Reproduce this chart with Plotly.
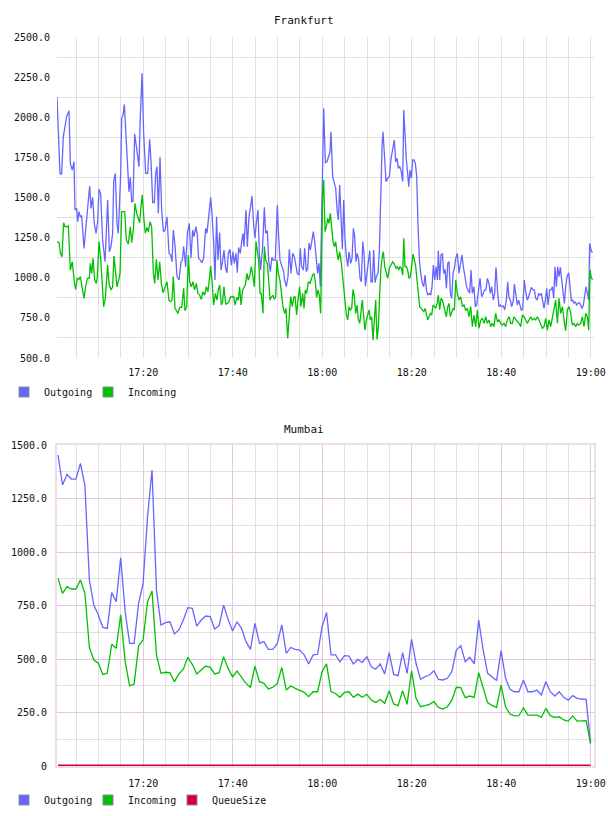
import pandas as pd
import plotly.graph_objects as go

# ---------------- data ----------------
DAY = "2013-01-01 17:00:00"   # times below are seconds after 17:00

fra_out_t = [43, 83, 105, 128, 150, 172, 204, 222, 248, 271, 284, 307, 320, 338, 356, 374, 405, 432, 454, 481,
             499, 521, 543, 566, 588, 606, 628, 655, 687, 722, 745, 767, 789, 803, 825, 847, 865, 897, 910, 928,
             946, 968, 990, 1008, 1026, 1044, 1062, 1084, 1111, 1142, 1160, 1183, 1205, 1232, 1259, 1285, 1303,
             1326, 1348, 1366, 1384, 1402, 1424, 1446, 1469, 1491, 1518, 1545, 1567, 1585, 1603, 1625, 1652, 1679,
             1706, 1724, 1741, 1768, 1791, 1817,
             1839, 1862, 1879, 1906, 1924, 1942, 1964, 1987, 2009, 2036, 2054, 2081, 2103, 2121, 2143, 2161, 2183,
             2201, 2224, 2242, 2259, 2282, 2304, 2322, 2340, 2362, 2380, 2402, 2420, 2443, 2461, 2478, 2501, 2519,
             2537, 2550, 2577, 2595, 2617, 2639, 2657, 2680, 2697, 2715, 2738, 2756, 2773, 2800, 2823, 2841, 2863,
             2881, 2903, 2925, 2943, 2970, 2997, 3015, 3033, 3060, 3082, 3095, 3118, 3140, 3158, 3180, 3203, 3225,
             3243, 3265, 3288, 3305, 3323, 3346, 3364, 3386, 3404, 3422, 3440, 3462, 3480, 3498, 3516, 3538, 3556,
             3574,
             3619, 3641, 3663, 3686, 3704, 3717, 3739, 3762, 3780, 3798, 3815, 3833, 3851, 3869, 3887, 3905, 3923,
             3941, 3958, 3981, 3999, 4017, 4034, 4052, 4070, 4088, 4106, 4124, 4142, 4160, 4178, 4195, 4213, 4236,
             4254, 4271, 4289, 4307, 4325, 4347, 4365, 4383, 4401, 4414, 4432, 4455, 4477, 4499, 4522, 4544, 4566,
             4584, 4602, 4620, 4638, 4656, 4678, 4692, 4709, 4727, 4745, 4759, 4776, 4794, 4812, 4830, 4848, 4866,
             4884, 4902, 4920, 4942, 4960, 4978, 4996, 5013, 5036, 5054, 5071, 5089, 5107, 5125, 5143, 5156, 5174,
             5192, 5210, 5228, 5246, 5264, 5282, 5299, 5317, 5335, 5353, 5371, 5389,
             5411, 5433, 5455, 5473, 5491, 5514, 5536, 5554, 5576, 5594, 5612, 5634, 5652, 5670, 5692, 5715, 5737,
             5759, 5777, 5795, 5813, 5835, 5853, 5871, 5893, 5911, 5929, 5952, 5969, 5987, 6005, 6028, 6045, 6068,
             6086, 6104, 6121, 6139, 6162, 6175, 6193, 6215, 6233, 6251, 6269, 6287, 6309, 6327, 6349, 6367, 6385,
             6403, 6425, 6443, 6461, 6479, 6501, 6519, 6537, 6555, 6573, 6591, 6609, 6627, 6649, 6667, 6685, 6703,
             6720, 6738, 6756, 6774, 6792, 6810, 6828, 6846, 6863, 6881, 6904, 6922, 6939, 6957, 6975, 6993, 7011,
             7029, 7047, 7065, 7082, 7100, 7118, 7136, 7154, 7172, 7185, 7208, 7226]
fra_out_v = [2124, 1650, 1646, 1879, 1941, 2004, 2041, 1713, 1671, 1723, 1422, 1432, 1349, 1412, 1380, 1385, 1183,
             1318, 1401, 1572, 1432, 1501, 1339, 1277, 1349, 1551, 1526, 1235, 1100, 1484, 1162, 1194, 1277, 1599,
             1650, 1339, 1277, 1650, 1993, 2014, 2080, 1879, 1671, 1536, 1626, 1474, 1474, 1896, 1806, 1692, 2004,
             2274, 1900, 1650, 1650, 1862, 1734, 1468, 1468, 1650, 1692, 1401, 1754, 1422, 1287, 1297, 1380, 1152,
             1142, 1100, 1297, 1204, 1007, 986, 1100, 1110, 1194, 1069, 1277, 1339,
             1121, 1297, 1256, 1318, 1266, 1121, 1110, 1094, 1121, 1308, 1277, 1380, 1501, 1401, 1225, 986, 1380,
             1110, 1281, 1048, 1090, 1173, 1059, 1031, 1152, 1177, 1079, 1162, 1090, 1152, 1031, 1189, 1152, 1225,
             1277, 1194, 1422, 1194, 1380, 1443, 1509, 1329, 1246, 1339, 1422, 1152, 1048, 1194, 1439, 1277, 1293,
             1110, 1038, 1127, 1110, 1110, 1451, 1256, 1110, 1069, 1038, 986, 944, 1007, 1177, 1027, 1152, 1131,
             1079, 1027, 1017, 1183, 1069, 1048, 1183, 1038, 1059, 1218, 1173, 1256, 1287, 1225, 1110, 1027, 1090,
             944,
             2056, 1717, 1723, 1754, 1785, 1910, 1630, 1588, 1557, 1422, 1360, 1578, 1380, 1177, 1484, 1235, 1131,
             1069, 1162, 1090, 1121, 1308, 1256, 1100, 1152, 1110, 996, 975, 1225, 1152, 948, 1017, 1090, 1169,
             975, 975, 1173, 969, 1007, 1027, 1162, 1526, 1817, 1910, 1765, 1599, 1620, 1630, 1744, 1796, 1858,
             1723, 1744, 1682, 1692, 1671, 1599, 2045, 1879, 1734, 1650, 1567, 1671, 1620, 1734, 1734, 1713, 1630,
             1318, 1110, 1027, 965, 944, 1017, 924, 892, 903, 892, 944, 1079, 986, 1069, 986, 1169, 986,
             1142, 1152, 1027, 1052, 934, 1090, 1100, 903, 872, 1027, 1059, 1121,
             1152, 1027, 1090, 1142, 1069, 986, 940, 924, 903, 1048, 903, 944, 820, 830, 903, 996, 882,
             903, 924, 924, 996, 965, 903, 944, 861, 903, 1065, 903, 820, 830, 820, 824, 799, 861,
             975, 872, 861, 820, 861, 961, 892, 830, 861, 820, 795, 809, 986, 913, 861, 882, 913,
             940, 924, 924, 872, 861, 903, 892, 903, 840, 809, 861, 934, 830, 924, 924, 944, 872,
             1069, 944, 1069, 1007, 1065, 986, 903, 840, 944, 1007, 1031, 944, 857, 861, 840, 851, 830,
             840, 845, 830, 809, 830, 903, 944, 903, 861, 1214, 1162, 1162]

fra_in_t = [43, 70, 88, 110, 132, 150, 177, 195, 222, 248, 275, 293, 315, 338, 356, 383, 405, 427, 450, 476, 490,
            508, 526, 548, 570, 584, 606, 628, 651, 669, 691, 722, 740, 767, 789, 807, 830, 847, 870, 888, 910,
            932, 950, 973, 999, 1026, 1044, 1066, 1089, 1111, 1134, 1151, 1169, 1187, 1209, 1227, 1250, 1268,
            1290, 1312, 1335, 1353, 1375, 1397, 1420, 1442, 1464, 1491, 1518, 1545, 1567, 1585, 1603, 1625, 1648,
            1665, 1688, 1715, 1741, 1759, 1782, 1804, 1822,
            1844, 1866, 1888, 1911, 1933, 1955, 1978, 2000, 2023, 2045, 2067, 2090, 2103, 2121, 2143, 2166, 2188,
            2206, 2224, 2246, 2264, 2282, 2304, 2326, 2349, 2371, 2394, 2411, 2429, 2452, 2474, 2492, 2510, 2532,
            2550, 2568, 2590, 2608, 2630, 2648, 2671, 2689, 2711, 2729, 2747, 2765, 2782, 2805, 2823, 2841, 2863,
            2881, 2899, 2917, 2939, 2957, 2975, 2992, 3010, 3033, 3055, 3073, 3095, 3113, 3136, 3153, 3176, 3198,
            3216, 3234, 3256, 3274, 3296, 3314, 3337, 3355, 3372, 3390, 3413, 3435, 3453, 3471, 3489, 3507, 3524,
            3542, 3560, 3578,
            3605, 3619, 3637, 3655, 3672, 3690, 3708, 3726, 3744, 3762, 3780, 3798, 3815, 3833, 3851, 3869, 3887,
            3905, 3923, 3941, 3958, 3976, 3994, 4012, 4030, 4048, 4066, 4084, 4102, 4119, 4137, 4155, 4173, 4191,
            4209, 4227, 4245, 4262, 4280, 4298, 4316, 4334, 4352, 4370, 4388, 4405, 4419, 4437, 4455, 4477, 4499,
            4522, 4544, 4566, 4589, 4607, 4625, 4642, 4660, 4678, 4692, 4709, 4727, 4745, 4763, 4781, 4799, 4817,
            4835, 4853, 4870, 4888, 4906, 4924, 4942, 4960, 4978, 4996, 5013, 5031, 5049, 5067, 5085, 5103, 5121,
            5139, 5156, 5174, 5192, 5210, 5228, 5246, 5264, 5282, 5299, 5317, 5335, 5353, 5371, 5389,
            5411, 5433, 5455, 5478, 5500, 5522, 5545, 5567, 5590, 5612, 5634, 5657, 5679, 5701, 5724, 5746, 5768,
            5791, 5813, 5835, 5858, 5880, 5902, 5925, 5947, 5969, 5992, 6014, 6037, 6059, 6081, 6104, 6126, 6148,
            6171, 6193, 6215, 6238, 6260, 6282, 6305, 6327, 6349, 6372, 6394, 6416, 6439, 6461, 6484, 6506, 6528,
            6551, 6573, 6595, 6618, 6640, 6662, 6685, 6707, 6729, 6752, 6774, 6796, 6819, 6841, 6863, 6886, 6908,
            6931, 6953, 6975, 6998, 7020, 7042, 7065, 7087, 7109, 7132, 7154, 7172, 7190, 7208, 7226]
fra_in_v = [1225, 1218, 1152, 1131, 1343, 1318, 1318, 1322, 1048, 1100, 975, 928, 996, 990, 1007, 944, 872, 944,
            996, 996, 1090, 1027, 1121, 986, 965, 1007, 1225, 1121, 903, 820, 872, 1079, 965, 924, 944, 1135, 1027,
            944, 986, 1027, 1412, 1412, 1412, 1235, 1210, 1318, 1218, 1297, 1464, 1401, 1360, 1343, 1443, 1516,
            1360, 1277, 1314, 1287, 1349, 1318, 1031, 965, 1115, 986, 1100, 965, 907, 944, 975, 857, 851, 861,
            1007, 809, 795, 778, 815, 815, 934, 795, 820, 1142, 975,
            944, 975, 924, 965, 903, 892, 865, 913, 892, 944, 913, 1007, 1073, 986, 830, 903, 861,
            924, 955, 830, 851, 944, 836, 840, 851, 882, 878, 886, 830, 878, 861, 944, 830, 924,
            944, 955, 1027, 986, 1017, 1069, 1007, 944, 1225, 1173, 1110, 903, 903, 778, 1194, 1110, 1090,
            986, 861, 878, 892, 865, 882, 1110, 1027, 982, 903, 820, 778, 809, 622, 737, 882, 820,
            878, 882, 768, 861, 944, 820, 903, 809, 924, 903, 975, 965, 996, 1017, 1027, 975, 878,
            924, 892, 778,
            1526, 1609, 1287, 1318, 1370, 1339, 1401, 1318, 1225, 1194, 1225, 1152, 1110, 1162, 1110, 1027, 944,
            861, 768, 737, 820, 799, 809, 928, 882, 778, 830, 737, 716, 789, 861, 757, 674, 737,
            778, 799, 737, 757, 612, 778, 861, 616, 695, 903, 1069, 1131, 1162, 1069, 1027, 996, 1059,
            1079, 1100, 1085, 1059, 1069, 1048, 1069, 1059, 1017, 1246, 1069, 1069, 1048, 996, 1007, 1090, 1148,
            1110, 1069, 986, 903, 820, 809, 799, 789, 809, 778, 737, 757, 778, 768, 830, 820, 809,
            840, 892, 799, 872, 861, 820, 789, 757, 820, 840, 757, 778, 809, 799, 986,
            903, 861, 882, 820, 830, 799, 809, 757, 820, 695, 768, 695, 799, 685, 737, 747, 716,
            757, 716, 737, 695, 716, 695, 778, 726, 737, 716, 705, 716, 695, 737, 757, 716, 716,
            757, 737, 726, 716, 695, 768, 757, 737, 716, 737, 757, 737, 747, 737, 757, 737, 716,
            685, 695, 747, 674, 737, 695, 757, 809, 861, 716, 872, 778, 820, 737, 670, 799, 820,
            778, 705, 716, 695, 716, 705, 716, 757, 695, 778, 757, 674, 1048, 996, 990]

mum_start = "2013-01-01 17:00:57"   # one sample per minute
mum_out = [1453, 1313, 1363, 1341, 1341, 1414, 1313, 869, 752, 706, 648, 643, 810, 768, 973, 720, 573, 573, 760,
           853, 1165, 1383, 822, 659, 670, 674, 617, 636, 682, 740, 737, 654, 682, 701, 698, 640, 656, 752, 685,
           631, 674, 643, 581, 545, 667, 573, 581, 545, 545, 573, 659, 526, 554, 545, 542, 519,
           477, 519, 522, 651, 717, 519, 519, 487, 516, 514, 477, 498, 484, 511, 464, 452, 477, 430, 530, 428,
           422, 530, 433, 592, 480, 405, 417, 425, 445, 405, 402, 410, 441, 542, 562, 487, 508, 477, 682, 542,
           433, 417, 399, 539, 410, 358, 347, 347, 402, 347, 347, 355, 332, 394, 347, 327, 347, 321, 308, 329,
           316, 313, 311, 106]
mum_in = [877, 807, 838, 827, 827, 869, 807, 554, 495, 480, 428, 433, 569, 550, 706, 488, 375, 383, 561, 589,
          768, 818, 519, 433, 438, 436, 394, 430, 452, 508, 475, 430, 449, 467, 461, 430, 436, 511, 456, 417, 444,
          417, 386, 368, 467, 394, 386, 360, 368, 386, 461, 355, 374, 363, 355, 344,
          324, 347, 347, 441, 477, 347, 339, 321, 344, 347, 321, 336, 321, 335, 308, 297, 311, 293, 352, 290,
          282, 352, 288, 445, 316, 277, 282, 288, 301, 274, 266, 277, 308, 368, 366, 319, 327, 321, 436, 368,
          296, 282, 274, 378, 277, 243, 234, 235, 272, 238, 238, 238, 227, 269, 235, 227, 230, 215, 210, 234,
          210, 210, 212, 106]
mum_queue = [0] * 120

series_names = ["Outgoing", "Incoming", "QueueSize"]
chart_titles = ["Frankfurt", "Mumbai"]
top_ticks = [500, 750, 1000, 1250, 1500, 1750, 2000, 2250, 2500]
bot_ticks = [0, 250, 500, 750, 1000, 1250, 1500]

# ---------------- styling ----------------
BLUE = "#6666ff"
GREEN = "#00c000"
RED = "#cc0040"
GRAY = "#e0e0e0"
PINK = "#e2c8e2"
PINK_BORDER = "#eedcee"
FONT = "DejaVu Sans Mono"
W, H = 608, 816

base = pd.Timestamp(DAY)
def secs(ts):
    return [base + pd.Timedelta(seconds=s) for s in ts]

mum_times = pd.date_range(mum_start, periods=len(mum_out), freq="60s")

fig = go.Figure()
fig.add_trace(go.Scatter(x=secs(fra_out_t), y=fra_out_v, mode="lines", line=dict(color=BLUE, width=1.3),
                         xaxis="x", yaxis="y", showlegend=False, name="Outgoing"))
fig.add_trace(go.Scatter(x=secs(fra_in_t), y=fra_in_v, mode="lines", line=dict(color=GREEN, width=1.3),
                         xaxis="x", yaxis="y", showlegend=False, name="Incoming"))
fig.add_trace(go.Scatter(x=mum_times, y=mum_out, mode="lines", line=dict(color=BLUE, width=1.3),
                         xaxis="x2", yaxis="y2", showlegend=False, name="Outgoing"))
fig.add_trace(go.Scatter(x=mum_times, y=mum_in, mode="lines", line=dict(color=GREEN, width=1.3),
                         xaxis="x2", yaxis="y2", showlegend=False, name="Incoming"))
fig.add_trace(go.Scatter(x=mum_times, y=mum_queue, mode="lines", line=dict(color=RED, width=3),
                         xaxis="x2", yaxis="y2", showlegend=False, name="QueueSize"))

# legend swatches (square markers)
colors = [BLUE, GREEN, RED]
top_widths = [39, 60]
bot_widths = [39, 39, 60]
for i, nm in enumerate(series_names[:2]):
    fig.add_trace(go.Scatter(x=[None], y=[None], mode="markers", name=nm, legend="legend",
                             legendwidth=top_widths[i],
                             marker=dict(symbol="square", size=10, color=colors[i], line=dict(color="#888", width=1)),
                             xaxis="x", yaxis="y"))
for i, nm in enumerate(series_names):
    fig.add_trace(go.Scatter(x=[None], y=[None], mode="markers", name=nm, legend="legend2",
                             legendwidth=bot_widths[i],
                             marker=dict(symbol="square", size=10, color=colors[i], line=dict(color="#888", width=1)),
                             xaxis="x2", yaxis="y2"))

xr = [base + pd.Timedelta(seconds=43), base + pd.Timedelta(seconds=7243)]
tickfont = dict(family=FONT, size=10, color="#111")

common_x = dict(type="date", range=xr, tickformat="%H:%M", dtick=1200000, tick0=base, ticks="",
                zeroline=False, tickfont=tickfont, ticklabelstandoff=7, domain=[57 / W, 594 / W],
                automargin=False)

fig.update_layout(
    width=W, height=H, margin=dict(l=0, r=0, t=0, b=0, autoexpand=False), autosize=False,
    paper_bgcolor="white", plot_bgcolor="white",
    xaxis=dict(**common_x, anchor="y", showgrid=True, gridcolor=GRAY, showline=False,
               minor=dict(dtick=300000, showgrid=True, gridcolor=GRAY, ticks="")),
    yaxis=dict(domain=[1 - 358 / H, 1 - 37 / H], anchor="x", range=[500, 2500], automargin=False,
               tickmode="array", tickvals=top_ticks, ticktext=[f"{v:.1f}" for v in top_ticks],
               showgrid=False, zeroline=False, ticks="", tickfont=tickfont, ticklabelstandoff=6,
               minor=dict(tickmode="linear", tick0=625, dtick=250, showgrid=True, gridcolor=GRAY, ticks="")),
    xaxis2=dict(**common_x, anchor="y2", showgrid=True, gridcolor=PINK,
                showline=True, mirror=True, linecolor=PINK_BORDER, linewidth=2,
                minor=dict(dtick=300000, showgrid=True, gridcolor=GRAY, ticks="")),
    yaxis2=dict(domain=[1 - 766 / H, 1 - 445 / H], anchor="x2", range=[0, 1500], automargin=False,
                tickmode="array", tickvals=bot_ticks,
                ticktext=["0" if v == 0 else f"{v:.1f}" for v in bot_ticks],
                showgrid=True, gridcolor=PINK, zeroline=False, ticks="", tickfont=tickfont,
                ticklabelstandoff=6, showline=True, mirror=True, linecolor=PINK_BORDER, linewidth=2,
                minor=dict(tickmode="linear", tick0=0, dtick=125, showgrid=True, gridcolor=GRAY, ticks="")),
    legend=dict(orientation="h", x=4 / W, xanchor="left", y=1 - 392 / H, yanchor="middle",
                font=dict(family=FONT, size=10, color="#111"), bgcolor="rgba(0,0,0,0)",
                itemwidth=30, traceorder="normal", itemclick=False, itemdoubleclick=False),
    legend2=dict(orientation="h", x=4 / W, xanchor="left", y=1 - 800 / H, yanchor="middle",
                 font=dict(family=FONT, size=10, color="#111"), bgcolor="rgba(0,0,0,0)",
                 itemwidth=30, traceorder="normal", itemclick=False, itemdoubleclick=False),
    annotations=[
        dict(text=chart_titles[0], x=0.5, y=1 - 20 / H, xref="paper", yref="paper", showarrow=False,
             xanchor="center", yanchor="middle", font=dict(family=FONT, size=11, color="#111")),
        dict(text=chart_titles[1], x=0.5, y=1 - 429 / H, xref="paper", yref="paper", showarrow=False,
             xanchor="center", yanchor="middle", font=dict(family=FONT, size=11, color="#111")),
    ],
)

fig.write_html("out.html", config={"responsive": False},
               post_script="document.body.style.margin='0';document.body.style.overflow='hidden';")
